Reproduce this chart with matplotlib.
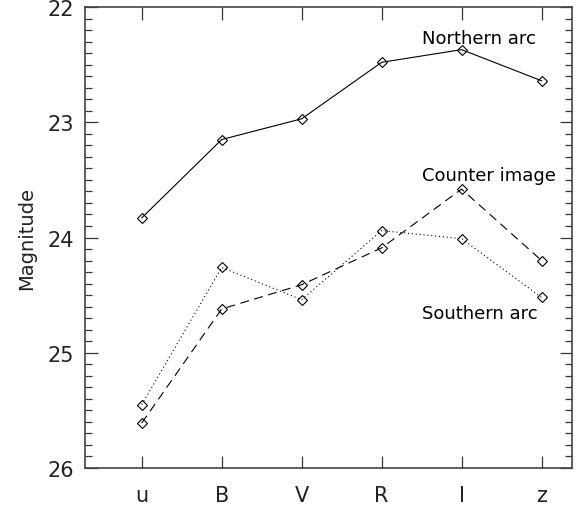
import matplotlib

matplotlib.use("Agg")
import matplotlib.pyplot as plt
from matplotlib.ticker import MultipleLocator

# Dải lọc và độ sáng của ba ảnh
bands = ["u", "B", "V", "R", "I", "z"]
northern = [23.83, 23.15, 22.97, 22.48, 22.37, 22.64]
counter = [25.61, 24.62, 24.41, 24.09, 23.58, 24.20]
southern = [25.45, 24.26, 24.54, 23.94, 24.01, 24.52]

plt.rcParams.update({
    "font.family": "DejaVu Sans",
    "xtick.direction": "in",
    "ytick.direction": "in",
})

fig = plt.figure(figsize=(5.8, 5.06), dpi=100)
ax = fig.add_axes([0.1466, 0.0731, 0.8394, 0.9111])

x = list(range(len(bands)))
kw = dict(color="black", lw=0.8, marker="D", ms=5, mfc="none", mec="black", mew=0.8)
ax.plot(x, northern, ls="-", **kw)
ax.plot(x, counter, ls=(0, (8, 5)), **kw)
ax.plot(x, southern, ls=(0, (1, 2.5)), **kw)

ax.text(3.5, 22.31, "Northern arc", fontsize=13, va="baseline", ha="left")
ax.text(3.5, 23.50, "Counter image", fontsize=13, va="baseline", ha="left")
ax.text(3.5, 24.70, "Southern arc", fontsize=13, va="baseline", ha="left")

ax.set_xlim(-0.709, 5.379)
ax.set_ylim(26, 22)
ax.set_xticks(x)
ax.set_xticklabels(bands)
ax.yaxis.set_major_locator(MultipleLocator(1))
ax.yaxis.set_minor_locator(MultipleLocator(0.1))
ax.tick_params(axis="both", which="major", length=9, width=0.9, labelsize=15,
               top=True, right=True, color="#333333", labelcolor="#222222")
ax.tick_params(axis="y", which="minor", length=5, width=0.9, right=True, color="#333333")
ax.tick_params(axis="x", pad=12)
ax.tick_params(axis="y", pad=8)
for s in ax.spines.values():
    s.set_color("#444444")
    s.set_linewidth(1.2)
ax.set_ylabel("Magnitude", fontsize=14, labelpad=8, color="#222222")

fig.savefig("out.png", dpi=100)
